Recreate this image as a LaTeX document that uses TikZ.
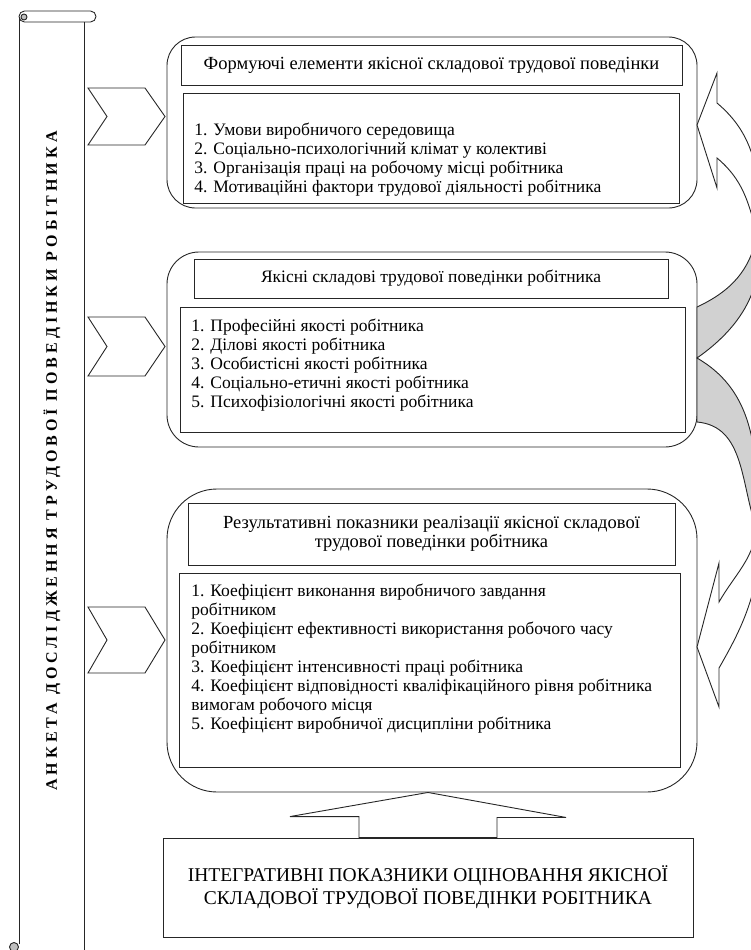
\documentclass[tikz,border=0pt]{standalone}
\usepackage{fontspec}
\setmainfont{Liberation Serif}
\newfontfamily\scrollfont[LetterSpace=25]{Liberation Serif}
\usetikzlibrary{calc}

\begin{document}
\begin{tikzpicture}[x=1pt,y=1pt,line width=0.9pt,line join=miter,
  outerbox/.style={draw=black!85,minimum width=530,inner sep=0pt},
  titlebox/.style={draw=black!85,align=center,inner sep=0pt,font=\fontsize{17.5}{19}\selectfont},
  listbox/.style={draw=black!85,inner sep=0pt},
  listtext/.style={anchor=north west,align=left,inner sep=0pt,font=\fontsize{17.5}{19}\selectfont},
  chevron/.style={draw=black!85},
  backface/.style={draw=black!85,fill=black!18},
  frontface/.style={draw=black!85,fill=white}]

  \useasboundingbox (0,0) rectangle (751,-950);
  \clip (0,0) rectangle (751,-950);

  % scroll on the left
  \draw[black!85,rounded corners=5.5] (19,-11) rectangle (96,-22);
  \draw[black!85,fill=black!25] (24,-17) circle (3);
  \draw[black!85] (19,-17) -- (19,-944);
  \draw[black!85] (84,-22) -- (84,-950);
  \draw[black!85,fill=black!25] (14,-947) circle (4.5);
  \node[rotate=90,font=\scrollfont\bfseries\fontsize{16}{18}\selectfont] (anketa) at (52,-461)
    {АНКЕТА ДОСЛІДЖЕННЯ ТРУДОВОЇ ПОВЕДІНКИ РОБІТНИКА};

  % chevrons
  \foreach \ya/\yb in {88/145,317/376,607/673}
    \draw[chevron] (88,-\ya) -- (145,-\ya) -- (165,{-(\ya+\yb)/2}) -- (145,-\yb) -- (88,-\yb) -- (107,{-(\ya+\yb)/2}) -- cycle;

  % block 1
  \node[outerbox,rounded corners=28.5,minimum height=171] (b1) at (432,-122.5) {};
  \node[titlebox,minimum width=501,minimum height=40,font=\fontsize{18.5}{19}\selectfont] (t1) at (431.5,-65)
    {Формуючі елементи якісної складової трудової поведінки};
  \node[listbox,minimum width=496,minimum height=110] (l1) at (431,-148) {};
  \node[listtext] (l1txt) at (194,-123)
    {1. Умови виробничого середовища\\
     2. Соціально-психологічний клімат у колективі\\
     3. Організація праці на робочому місці робітника\\
     4. Мотиваційні фактори трудової діяльності робітника};

  % block 2
  \node[outerbox,rounded corners=32,minimum height=195] (b2) at (432,-349.5) {};
  \node[titlebox,minimum width=474,minimum height=39] (t2) at (431,-278.5)
    {Якісні складові трудової поведінки робітника};
  \node[listbox,minimum width=505,minimum height=125] (l2) at (432.5,-369.5) {};
  \node[listtext] (l2txt) at (191,-319)
    {1. Професійні якості робітника\\
     2. Ділові якості робітника\\
     3. Особистісні якості робітника\\
     4. Соціально-етичні якості робітника\\
     5. Психофізіологічні якості робітника};

  % block 3
  \node[outerbox,rounded corners=50,minimum height=303] (b3) at (432,-640.5) {};
  \node[titlebox,minimum width=487,minimum height=62,font=\fontsize{18.5}{19}\selectfont] (t3) at (431.5,-534)
    {Результативні показники реалізації якісної складової\\трудової поведінки робітника};
  \node[listbox,minimum width=501,minimum height=194] (l3) at (429.5,-670) {};
  \node[listtext] (l3txt) at (191,-584)
    {1. Коефіцієнт виконання виробничого завдання\\
     робітником\\
     2. Коефіцієнт ефективності використання робочого часу\\
     робітником\\
     3. Коефіцієнт інтенсивності праці робітника\\
     4. Коефіцієнт відповідності кваліфікаційного рівня робітника\\
     вимогам робочого місця\\
     5. Коефіцієнт виробничої дисципліни робітника};

  % integrative indicators
  \node[titlebox,minimum width=530,minimum height=99,font=\fontsize{19.5}{23}\selectfont] (bot) at (428,-887.5)
    {ІНТЕГРАТИВНІ ПОКАЗНИКИ ОЦІНОВАННЯ ЯКІСНОЇ\\СКЛАДОВОЇ ТРУДОВОЇ ПОВЕДІНКИ РОБІТНИКА};
  \draw[frontface] (bot.north |- b3.south) -- ++(138,-25) -- ++(-69,0) -- ($(bot.north)+(69,0)$)
    -- ($(bot.north)+(-69,0)$) -- ++(0,21) -- ++(-69,0) -- cycle;

  % curved arrows on the right
  \draw[backface] (697,-307) to[out=25,in=-100] (757,-234) to[out=-80,in=35] (697,-358) -- cycle;
  \draw[frontface] (697,-125) -- (717,-73) -- (717,-103) to[out=-40,in=95] (762,-215)
    -- (757,-234) to[out=105,in=-40] (717,-158) -- (717,-188) -- cycle;
  \draw[backface] (697,-358) to[out=-30,in=92] (758,-500) -- (757,-530)
    to[out=110,in=-5] (697,-422) -- cycle;
  \draw[frontface] (697,-647) -- (719,-563) -- (719,-602) to[out=60,in=-100] (757,-530)
    -- (760,-560) to[out=-100,in=60] (719,-668) -- (719,-707) -- cycle;
\end{tikzpicture}
\end{document}
